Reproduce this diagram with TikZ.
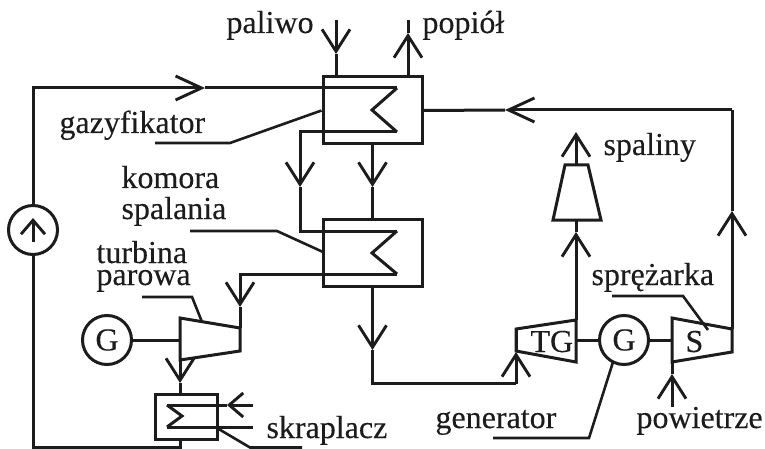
\documentclass[tikz,border=0pt]{standalone}
\usepackage{fontspec}
\setmainfont[FakeBold=0.25]{Liberation Serif}
\usetikzlibrary{arrows.meta}
\definecolor{ink}{HTML}{1C1C1C}
\tikzset{
  flow/.style={-{Straight Barb[length=22pt,width=28pt,line width=2.9pt]}},
  hflow/.style={-{Straight Barb[length=26pt,width=24pt,line width=2.9pt]}},
  smallflow/.style={-{Straight Barb[length=14pt,width=24pt,line width=2.9pt]}},
  lbl/.style={anchor=base west,inner sep=0pt,text=ink,font=\fontsize{32}{32}\selectfont},
  boxn/.style={draw,rectangle,inner sep=0pt,minimum width=99pt,minimum height=67pt},
  conden/.style={draw,rectangle,inner sep=0pt,minimum width=62pt,minimum height=45pt},
  circ/.style={draw,circle,inner sep=0pt,minimum size=49pt,text=ink,font=\fontsize{32}{32}\selectfont},
  leader/.style={line width=2.6pt}
}
\begin{document}
\begin{tikzpicture}[x=1pt,y=-1pt,line width=3pt,color=ink]
\useasboundingbox (0,0) rectangle (765,449);
% main components
\node[boxn] (gaz) at (372.5,110.5) {};
\node[boxn] (kom) at (372.5,253) {};
\node[conden] (skr) at (186,416.5) {};
\node[circ] (pump) at (33,230) {};
\node[circ] (g1) at (107,340) {G};
\node[circ] (g2) at (624,340) {G};
% labels
\node[lbl] (tpal) at (225,33) {paliwo};
\node[lbl] (tpop) at (421,33) {popiół};
\node[lbl] (tgaz) at (58,133) {gazyfikator};
\node[lbl] (tkom) at (120,188) {komora};
\node[lbl] (tspa) at (120,219) {spalania};
\node[lbl] (ttur) at (95,263) {turbina};
\node[lbl] (tpar) at (95,285) {parowa};
\node[lbl] (tskr) at (265,438) {skraplacz};
\node[lbl] (tgen) at (434,428) {generator};
\node[lbl] (tpow) at (635,428) {powietrze};
\node[lbl] (tspr) at (590,285) {sprężarka};
\node[lbl] (tspl) at (602,155) {spaliny};
\node[lbl] (ttg) at (529,352) {TG};
\node[lbl] (ts) at (684,352) {S};
% machines
\draw (180,318) coordinate (tpTL) -- (240,328) coordinate (tpTR) -- (240,351) coordinate (tpBR) -- (180,360) coordinate (tpBL) -- cycle;
\draw (516,329) coordinate (tgTL) -- (576,320) coordinate (tgTR) -- (576,362) coordinate (tgBR) -- (516,351) coordinate (tgBL) -- cycle;
\draw (672,318) coordinate (sTL) -- (732,329) coordinate (sTR) -- (732,352) coordinate (sBR) -- (672,362) coordinate (sBL) -- cycle;
\draw (565,165) coordinate (stTL) -- (588,165) coordinate (stTR) -- (601,220) coordinate (stBR) -- (553,220) coordinate (stBL) -- cycle;
% coils
\coordinate (c1a) at (397,88); \coordinate (c1m) at (372,110); \coordinate (c1b) at (397,132);
\coordinate (c2a) at (397,231); \coordinate (c2m) at (372,253); \coordinate (c2b) at (397,274);
\coordinate (c3a) at (167,405); \coordinate (c3m) at (182,416); \coordinate (c3b) at (167,427);
\draw (c1a) -- (c1m) -- (c1b);
\draw (c2a) -- (c2m) -- (c2b);
\draw (c3a) -- (c3m) -- (c3b);
% feed line with pump
\coordinate (botR) at (180,447.5); \coordinate (botL) at (33,447.5); \coordinate (topL) at (33,88);
\draw (skr.south -| botR) -- (botR) -- (botL) -- (pump.south);
\coordinate (a1) at (205,88);
\draw[hflow] (pump.north) -- (topL) -- (a1);
\draw (a1) -- (c1a);
% pump arrow
\coordinate (pa) at (33,242); \coordinate (pb) at (33,218);
\draw[smallflow] (pa) -- (pb);
% gasifier to combustor
\coordinate (a2) at (300,187); \coordinate (p2) at (300,132);
\draw[flow] (c1b) -- (p2) -- (a2);
\coordinate (k2) at (300,231);
\draw (a2) -- (k2) -- (c2a);
\coordinate (a3) at (372.5,187);
\draw[flow] (gaz.south) -- (a3);
\draw (a3) -- (kom.north);
% combustor to steam turbine
\coordinate (p4) at (240,274); \coordinate (a4) at (240,307);
\draw[flow] (c2b) -- (p4) -- (a4);
\draw (a4) -- (tpTR);
% turbine to condenser
\coordinate (a5) at (180,383);
\draw[flow] (tpBL) -- (a5);
\draw (a5) -- (skr.north -| a5);
% combustor to gas turbine
\coordinate (a6) at (372.5,350); \coordinate (p6) at (372.5,383.5); \coordinate (p7) at (516,383.5); \coordinate (a7) at (516,352);
\draw[flow] (kom.south) -- (a6);
\draw (a6) -- (p6) -- (p7);
\draw[flow] (p7) -- (a7);
\draw (a7) -- (tgTL);
% gas turbine to stack
\coordinate (a8) at (576,232); \coordinate (st) at (576,220);
\draw[flow] (tgTR) -- (a8);
\draw (a8) -- (st);
\coordinate (s1) at (576,165); \coordinate (s2) at (576,132);
\draw[flow] (s1) -- (s2);
% compressor to gasifier
\coordinate (a9) at (732,211); \coordinate (p9) at (732,110); \coordinate (a10) at (505,110);
\draw[flow] (sTR) -- (a9);
\draw (a9) -- (p9);
\draw[hflow] (p9) -- (a10);
\draw (a10) -- (gaz.east);
% fuel, ash, air
\coordinate (f0) at (336,20); \coordinate (f1) at (336,54);
\draw[flow] (f0) -- (f1);
\draw (f1) -- (f1 |- gaz.north);
\coordinate (o0) at (408,20); \coordinate (o1) at (408,33);
\draw[flow] (o1 |- gaz.north) -- (o1);
\draw (o1) -- (o0);
\coordinate (w0) at (672,407); \coordinate (w1) at (672,374);
\draw[flow] (w0) -- (w1);
\draw (w1) -- (sBL);
% shafts
\coordinate (s3) at (180,340); \coordinate (s4) at (576,340); \coordinate (s5) at (672,340);
\draw (g1.east) -- (s3);
\draw (s4) -- (g2.west);
\draw (g2.east) -- (s5);
% condenser cooling
\coordinate (cw0) at (253,405); \coordinate (cw1) at (227,405); \coordinate (cw2) at (253,427);
\draw[smallflow] (cw0) -- (cw1);
\draw (cw1) -- (c3a);
\draw (c3b) -- (cw2);
% leaders
\draw[leader] (155,143) -- (230,143) -- (gaz.west);
\draw[leader] (190,231) -- (277,231) -- (323,252);
\draw[leader] (142,297) -- (192,297) -- (202,322);
\draw[leader] (217,428) -- (250,447.5) -- (302,447.5);
\draw[leader] (493,438) -- (589,438) -- (613,362);
\draw[leader] (612,296) -- (683,296) -- (708,330);
\end{tikzpicture}
\end{document}
